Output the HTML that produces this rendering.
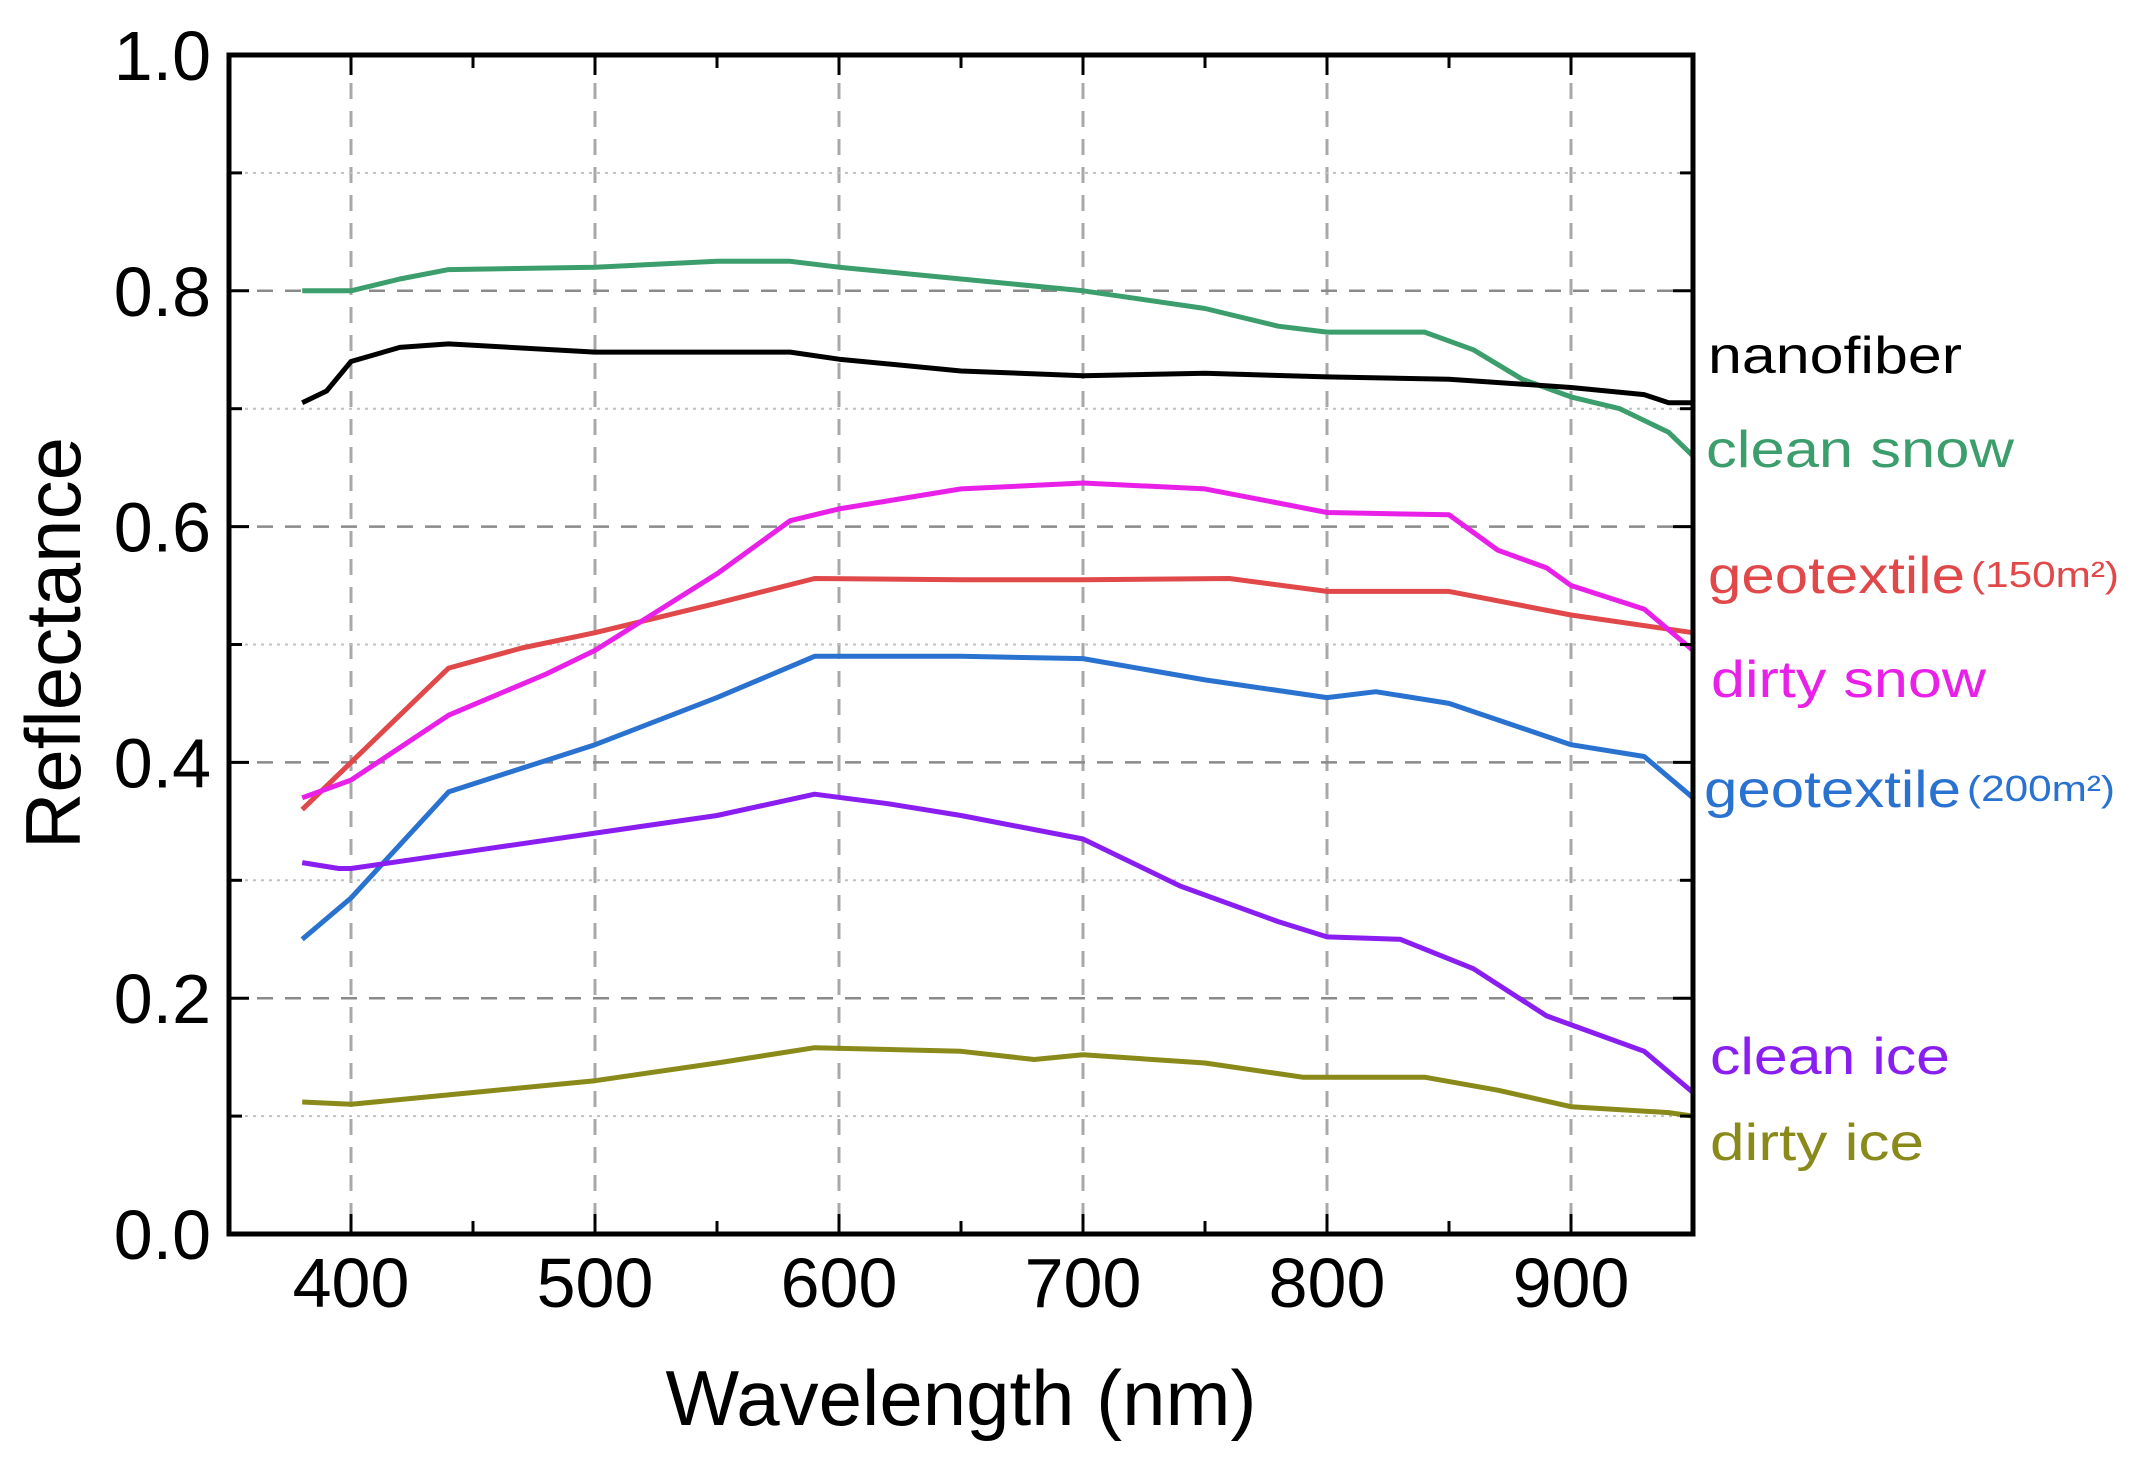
<!DOCTYPE html>
<html><head><meta charset="utf-8"><style>
html,body{margin:0;padding:0;background:#fff;}
svg{display:block;font-family:"Liberation Sans",Arial,sans-serif;}
</style></head><body>
<svg id="chart" width="2153" height="1462" viewBox="0 0 2153 1462" xmlns="http://www.w3.org/2000/svg">
<g id="grid"></g>
<g id="series"></g>
<g id="axes"></g>
<g id="labels"></g>
<text x="0" y="0" transform="translate(80,643) rotate(-90)" text-anchor="middle" font-size="78" fill="#000">Reflectance</text>
<text x="961" y="1425" text-anchor="middle" font-size="78" fill="#000">Wavelength (nm)</text>
</svg>
<script>
const xTicks=[400,500,600,700,800,900];
const yTicks=[0.0,0.2,0.4,0.6,0.8,1.0];
const yTickLabels=["0.0","0.2","0.4","0.6","0.8","1.0"];
const seriesNames=["clean snow","nanofiber","geotextile(150m2)","dirty snow","geotextile(200m2)","clean ice","dirty ice"];
const cleanSnowX=[380,400,420,440,500,550,580,600,650,700,750,780,800,840,860,880,900,920,940,950];
const cleanSnowY=[.80,.80,.81,.818,.82,.825,.825,.82,.81,.80,.785,.77,.765,.765,.75,.725,.71,.70,.68,.66];
const nanofiberX=[380,390,400,420,440,500,580,600,650,700,750,800,850,900,930,940,950];
const nanofiberY=[.705,.715,.74,.752,.755,.748,.748,.742,.732,.728,.73,.727,.725,.718,.712,.705,.705];
const geo150X=[380,400,420,440,470,500,550,590,650,700,760,800,850,900,950];
const geo150Y=[.36,.40,.44,.48,.497,.51,.535,.556,.555,.555,.556,.545,.545,.525,.51];
const dirtySnowX=[380,400,440,480,500,550,580,600,650,700,750,780,800,850,870,890,900,930,950];
const dirtySnowY=[.37,.385,.44,.475,.495,.56,.605,.615,.632,.637,.632,.62,.612,.61,.58,.565,.55,.53,.495];
const geo200X=[380,400,420,440,470,500,550,590,650,700,750,800,820,850,900,930,950];
const geo200Y=[.25,.285,.33,.375,.395,.415,.455,.49,.49,.488,.47,.455,.46,.45,.415,.405,.37];
const cleanIceX=[380,395,400,450,500,550,590,620,650,700,740,780,800,830,860,890,910,930,950];
const cleanIceY=[.315,.31,.31,.325,.34,.355,.373,.365,.355,.335,.295,.265,.252,.25,.225,.185,.17,.155,.12];
const dirtyIceX=[380,400,450,500,550,590,650,680,700,750,790,840,870,900,940,950];
const dirtyIceY=[.112,.11,.12,.13,.145,.158,.155,.148,.152,.145,.133,.133,.122,.108,.103,.10];

const L=229,R=1693,T=55,B=1234,XMIN=350,XMAX=950;
const sx=v=>L+(v-XMIN)/(XMAX-XMIN)*(R-L);
const sy=v=>B-v*(B-T);
const NS="http://www.w3.org/2000/svg";
function mk(tag,attrs,parent){const e=document.createElementNS(NS,tag);for(const k in attrs)e.setAttribute(k,attrs[k]);parent.appendChild(e);return e;}
const grid=document.getElementById('grid'),axes=document.getElementById('axes'),ser=document.getElementById('series'),lab=document.getElementById('labels');

xTicks.forEach(t=>{const l=mk('line',{x1:sx(t),x2:sx(t),y1:T,y2:B,stroke:'#a8a8a8','stroke-width':3,'stroke-dasharray':'16 12'},grid);

});
yTicks.slice(1,5).forEach(t=>{const l=mk('line',{x1:L,x2:R,y1:sy(t),y2:sy(t),stroke:'#8a8a8a','stroke-width':2.5,'stroke-dasharray':'16 12'},grid);

});
[0.1,0.3,0.5,0.7,0.9].forEach(t=>{const l=mk('line',{x1:L,x2:R,y1:sy(t),y2:sy(t),stroke:'#c0c0c0','stroke-width':2,'stroke-dasharray':'3 5'},grid);

});

const series=[[cleanSnowX,cleanSnowY,'#3c9e6c'],[nanofiberX,nanofiberY,'#000'],[geo150X,geo150Y,'#e0484a'],[dirtySnowX,dirtySnowY,'#e820e8'],[geo200X,geo200Y,'#2a72d0'],[cleanIceX,cleanIceY,'#8a1ef0'],[dirtyIceX,dirtyIceY,'#8a8a1a']];
series.forEach((s,i)=>{const d=s[0].map((x,j)=>(j?'L':'M')+sx(x).toFixed(1)+','+sy(s[1][j]).toFixed(1)).join(' ');
const p=mk('path',{d:d,fill:'none',stroke:s[2],'stroke-width':5,'stroke-linejoin':'round'},ser);

});

const fr=mk('rect',{x:L,y:T,width:R-L,height:B-T,fill:'none',stroke:'#000','stroke-width':5},axes);


for(let v=400;v<=950;v+=50){const major=v%100===0;const len=major?20:13;
const a=mk('line',{x1:sx(v),x2:sx(v),y1:B,y2:B-len,stroke:'#000','stroke-width':3},axes);


const b=mk('line',{x1:sx(v),x2:sx(v),y1:T,y2:T+len,stroke:'#000','stroke-width':3},axes);

}
for(let k=1;k<10;k++){const v=k/10;const len=k%2===0?20:13;
const a=mk('line',{x1:L,x2:L+len,y1:sy(v),y2:sy(v),stroke:'#000','stroke-width':3},axes);


const b=mk('line',{x1:R,x2:R-len,y1:sy(v),y2:sy(v),stroke:'#000','stroke-width':3},axes);

}
xTicks.forEach(t=>{const e=mk('text',{x:sx(t),y:1307,'text-anchor':'middle','font-size':70,fill:'#000'},axes);e.textContent=t;

});
yTicks.forEach((t,i)=>{const e=mk('text',{x:211,y:sy(t)+25,'text-anchor':'end','font-size':70,fill:'#000'},axes);e.textContent=yTickLabels[i];

});

const labelItems=[["nanofiber",'#000',1708,373,254,""],["clean snow",'#3c9e6c',1706,467,308,""],["geotextile",'#e0484a',1708,593,257,"(150m\u00b2)"],["dirty snow",'#e820e8',1711,697,275,""],["geotextile",'#2a72d0',1704,807,257,"(200m\u00b2)"],["clean ice",'#8a1ef0',1710,1074,240,""],["dirty ice",'#8a8a1a',1710,1160,214,""]];
labelItems.forEach(it=>{const e=mk('text',{x:it[2],y:it[3],'font-size':52,fill:it[1],textLength:it[4],lengthAdjust:'spacingAndGlyphs'},lab);e.textContent=it[0];


if(it[5]){const s=mk('text',{x:it[2]+it[4]+6,y:it[3]-6,'font-size':36,fill:it[1],textLength:148,lengthAdjust:'spacingAndGlyphs'},lab);s.textContent=it[5];

}});
</script>
</body></html>
